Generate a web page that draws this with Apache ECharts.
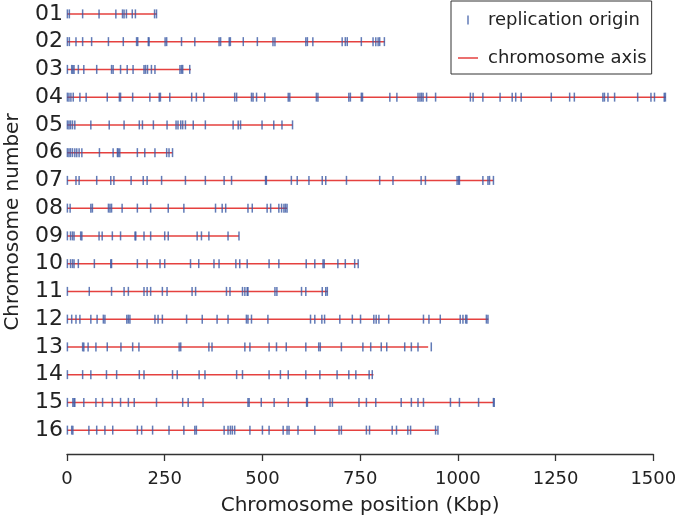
<!DOCTYPE html>
<html>
<head>
<meta charset="utf-8">
<script src="https://cdn.jsdelivr.net/npm/echarts@6/dist/echarts.min.js"></script>
<style>
html,body{margin:0;padding:0;background:#fff;}
#chart{width:677px;height:518px;}
</style>
</head>
<body>
<div id="chart"></div>
<script>
// Chromosome labels, lengths (Kbp) and replication-origin positions (Kbp)
const chromLabels = ['01','02','03','04','05','06','07','08','09','10','11','12','13','14','15','16'];
const chromLengths = [230, 813, 317, 1532, 577, 270, 1091, 563, 440, 745, 667, 1078, 924, 784, 1091, 948];
const xTicks = [0, 250, 500, 750, 1000, 1250, 1500];

const ori01 = [1, 6, 40, 82, 125, 142, 146, 152, 167, 175, 224, 229];
const ori02 = [1, 6, 23, 40, 63, 106, 144, 178, 181, 208, 210, 251, 255, 293, 327, 389, 393, 415, 418, 451, 487, 527, 532, 611, 615, 629, 704, 712, 717, 753, 783, 790, 796, 800, 812];
const ori03 = [1, 12, 15, 18, 29, 43, 76, 114, 118, 137, 154, 169, 197, 201, 206, 216, 225, 289, 293, 296, 314];
const ori04 = [1, 5, 10, 16, 33, 49, 103, 134, 137, 168, 212, 236, 239, 263, 319, 331, 350, 429, 434, 472, 476, 485, 506, 566, 570, 638, 642, 721, 725, 753, 756, 826, 844, 898, 903, 907, 911, 920, 943, 1032, 1039, 1064, 1108, 1139, 1148, 1162, 1239, 1286, 1298, 1371, 1375, 1384, 1401, 1460, 1494, 1503, 1528, 1531];
const ori05 = [1, 5, 9, 14, 20, 61, 108, 146, 185, 193, 221, 256, 279, 284, 291, 296, 303, 323, 354, 425, 438, 444, 499, 529, 550, 577];
const ori06 = [1, 5, 9, 14, 20, 25, 31, 38, 83, 118, 129, 131, 135, 180, 199, 225, 255, 261, 270];
const ori07 = [1, 23, 31, 76, 112, 120, 164, 195, 205, 242, 303, 354, 402, 421, 508, 510, 574, 589, 619, 653, 662, 715, 800, 834, 906, 917, 998, 1002, 1004, 1064, 1077, 1081, 1091];
const ori08 = [1, 8, 61, 65, 106, 110, 114, 141, 180, 214, 259, 299, 380, 397, 406, 463, 474, 512, 521, 542, 549, 555, 559, 563];
const ori09 = [1, 9, 14, 18, 35, 38, 82, 90, 116, 137, 174, 176, 197, 214, 250, 259, 333, 344, 363, 412, 440];
const ori10 = [1, 9, 14, 18, 29, 70, 112, 114, 180, 205, 238, 250, 316, 337, 376, 389, 432, 442, 461, 517, 542, 612, 634, 655, 658, 693, 712, 736, 745];
const ori11 = [1, 57, 114, 146, 157, 197, 205, 214, 244, 256, 320, 329, 408, 417, 449, 455, 461, 463, 532, 537, 600, 611, 653, 662, 666];
const ori12 = [1, 12, 23, 33, 61, 77, 93, 97, 153, 157, 161, 225, 233, 244, 306, 346, 384, 412, 459, 463, 472, 514, 623, 634, 652, 659, 698, 730, 751, 785, 791, 798, 823, 912, 926, 955, 1006, 1013, 1020, 1023, 1073, 1077];
const ori13 = [1, 40, 43, 54, 74, 103, 138, 168, 184, 287, 291, 363, 371, 455, 468, 517, 536, 561, 611, 644, 648, 702, 757, 777, 804, 818, 864, 881, 898, 932];
const ori14 = [1, 40, 61, 101, 127, 185, 197, 270, 282, 338, 353, 434, 449, 517, 546, 566, 611, 647, 691, 721, 739, 773, 781];
const ori15 = [1, 15, 18, 20, 43, 74, 91, 116, 137, 157, 172, 229, 296, 310, 348, 463, 466, 497, 530, 566, 613, 615, 673, 679, 747, 766, 790, 855, 881, 898, 912, 981, 1004, 1053, 1091, 1093];
const ori16 = [1, 12, 15, 56, 76, 97, 117, 180, 191, 219, 261, 299, 327, 331, 402, 412, 418, 423, 429, 468, 500, 517, 553, 563, 568, 591, 634, 696, 702, 766, 774, 832, 843, 872, 879, 943, 949];

const origins = [ori01, ori02, ori03, ori04, ori05, ori06, ori07, ori08, ori09, ori10, ori11, ori12, ori13, ori14, ori15, ori16];

// Build series data from the arrays above
const axisData = [];
chromLengths.forEach(function (len, i) {
  axisData.push([0, i]);
  axisData.push([len, i]);
  axisData.push(['-', '-']);
});
const originData = [];
origins.forEach(function (arr, i) {
  arr.forEach(function (p) { originData.push([p, i]); });
});

const FONT = 'DejaVu Sans';
const TXT = '#222';
const chart = echarts.init(document.getElementById('chart'), null, {renderer: 'canvas'});
chart.setOption({
  animation: false,
  backgroundColor: '#fff',
  textStyle: {fontFamily: FONT, color: TXT},
  grid: {left: 67, right: 23.7, top: 0, height: 444, containLabel: false, outerBoundsMode: 'none'},
  legend: {
    orient: 'vertical',
    left: 451, top: 1,
    padding: [10, 5, 7, 7],
    itemWidth: 20, itemHeight: 9, itemGap: 20,
    borderColor: '#333', borderWidth: 1,
    textStyle: {fontFamily: FONT, fontSize: 18, color: TXT, padding: [0, 0, 0, 5]},
    data: [
      {name: 'replication origin', icon: 'path://M0,0h2v12h-2z'},
      {name: 'chromosome axis', icon: 'path://M0,0h40v3h-40z'}
    ]
  },
  xAxis: {
    type: 'value', min: xTicks[0], max: xTicks[xTicks.length - 1], interval: 250,
    offset: 10,
    splitLine: {show: false},
    axisLine: {show: true, lineStyle: {color: '#333', width: 1.3}},
    axisTick: {show: true, length: 7, lineStyle: {color: '#333', width: 1.3}},
    axisLabel: {fontFamily: FONT, fontSize: 18, color: TXT, margin: 16,
      formatter: function (v) { return String(v); }},
    name: 'Chromosome position (Kbp)',
    nameLocation: 'middle', nameGap: 42,
    nameTextStyle: {fontFamily: FONT, fontSize: 20, color: TXT}
  },
  yAxis: {
    type: 'category', data: chromLabels, inverse: true,
    axisLine: {show: false}, axisTick: {show: false}, splitLine: {show: false},
    axisLabel: {fontFamily: FONT, fontSize: 22, color: TXT, margin: 4, interval: 0, hideOverlap: false},
    name: 'Chromosome number',
    nameLocation: 'middle', nameGap: 44,
    nameTextStyle: {fontFamily: FONT, fontSize: 20, color: TXT}
  },
  series: [
    {
      name: 'chromosome axis', type: 'line', data: axisData,
      symbol: 'none', showSymbol: false, connectNulls: false, clip: false,
      lineStyle: {color: '#e5413f', width: 1.5},
      itemStyle: {color: '#e5413f'},
      z: 1, silent: true
    },
    {
      name: 'replication origin', type: 'scatter', data: originData,
      symbol: 'rect', symbolSize: [1.5, 9], clip: false,
      itemStyle: {color: '#3b5aa5'},
      z: 2, silent: true
    }
  ]
});
</script>
</body>
</html>
